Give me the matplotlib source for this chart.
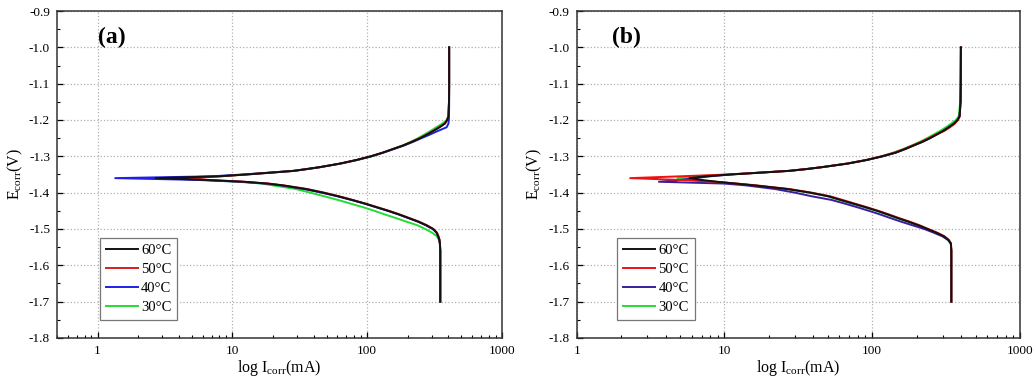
#Import Library
import numpy as np
import matplotlib
matplotlib.use('Agg')
import matplotlib.pyplot as plt
from matplotlib.ticker import MultipleLocator, LogLocator, FuncFormatter

plt.rcParams['font.family'] = ['Liberation Serif', 'DejaVu Serif']

#Potential grid shared by all curves (V)
E = [-1.70, -1.60, -1.56, -1.54, -1.53, -1.52, -1.51, -1.50, -1.49, -1.48,
     -1.47, -1.46, -1.45, -1.44, -1.43, -1.42, -1.41, -1.40, -1.39, -1.38,
     -1.375, -1.37, -1.365, -1.36, -1.355, -1.35, -1.345, -1.34, -1.335, -1.33,
     -1.32, -1.31, -1.30, -1.29, -1.28, -1.27, -1.26, -1.25, -1.24, -1.23,
     -1.22, -1.21, -1.20, -1.19, -1.15, -1.10, -1.00]

temps = ['60°C', '50°C', '40°C', '30°C']

#Panel (a) currents (mA)
a_60 = [348, 348, 348, 346, 343, 336, 327, 308, 275, 240, 203, 172, 143, 117, 96, 77,
        61, 47, 35, 23.7, 18.3, 12.3, 6.4, 2.7,
        8, 12.6, 19, 28.6, 35.6, 44, 62.7, 83, 106, 130, 155, 185, 215, 247, 278,
        310, 344, 377, 392, 400, 404, 405, 405]
a_50 = [348, 348, 348, 346, 344, 338, 329, 310, 278, 243, 206, 174, 145, 119, 97, 78,
        62, 48, 36, 24, 18.5, 12, 6.8, 4.4,
        8.2, 12.8, 19.3, 28.8, 36, 44.5, 63, 83.5, 106, 130, 155, 185, 214, 245, 276,
        307, 340, 374, 390, 399, 404, 405, 405]
a_40 = [348, 348, 348, 346, 342, 335, 326, 306, 273, 238, 202, 171, 142, 116, 95, 76,
        60, 46, 34, 23, 17.5, 11.5, 5.5, 1.35,
        7, 12, 18.5, 28, 35.5, 44, 63, 84, 107, 131, 157, 188, 219, 252, 292,
        335, 388, 400, 403, 404, 405, 405, 405]
a_30 = [348, 348, 348, 345, 340, 328, 302, 269, 236, 196, 163, 135, 113, 93, 75, 60.5,
        48, 37.8, 29.5, 20, 16.5, 11, 6, 3.2,
        7.5, 12.5, 19, 28.6, 35.6, 44.5, 63.5, 85, 108, 130, 155, 183, 210, 238, 265,
        295, 325, 360, 388, 400, 404, 405, 405]

#Panel (b) currents (mA)
b_60 = [343, 343, 343, 341, 328, 305, 271, 236, 206, 176, 149, 127, 108, 90, 74, 61,
        50.5, 38, 26.6, 15.9, 11.9, 8.9, 7, 5.8,
        7.5, 11, 17.4, 27.5, 36, 45.4, 68, 92, 117, 144, 167, 191, 219, 246, 273,
        302, 329, 357, 378, 390, 396, 397, 398]
b_50 = [343, 343, 343, 341, 330, 308, 275, 240, 210, 180, 152, 130, 110, 92, 76, 63,
        52, 39, 27.5, 16.5, 12.2, 8.6, 5, 2.3,
        5, 10.5, 17, 27, 35.5, 45, 67, 91, 115, 141, 164, 188, 215, 241, 270,
        308, 336, 362, 380, 391, 396, 397, 398]
b_40 = [343, 343, 343, 340, 325, 298, 260, 225, 188, 157, 133, 113, 95, 79, 65, 53,
        39, 30, 22, 14, 10, 3.6, 5, 6.3,
        8, 11, 17.4, 27.5, 36, 45.4, 68, 92, 117, 144, 167, 191, 219, 246, 273,
        302, 329, 357, 378, 390, 396, 397, 398]
b_30 = [343, 343, 343, 340, 326, 300, 268, 234, 204, 175, 148, 126, 107, 89, 73, 60,
        50, 37.5, 26.5, 15.8, 11.8, 8.8, 6, 4.8,
        6.5, 10.5, 17, 27.5, 36, 45.4, 68, 92, 117, 138, 162, 185, 210, 235, 260,
        288, 315, 342, 368, 385, 394, 397, 398]

colors_a = ['#111111', '#d42020', '#1f1fe6', '#22dd33']
colors_b = ['#111111', '#ee1111', '#3a1ea0', '#22dd33']

fig = plt.figure(figsize=(10.35, 3.82), dpi=100)
ax1 = fig.add_axes([0.0551, 0.1152, 0.430, 0.856])
ax2 = fig.add_axes([0.5572, 0.1152, 0.4283, 0.856])

panels = [(ax1, [a_60, a_50, a_40, a_30], colors_a, '(a)', 0.5, 0.092, 0.097),
          (ax2, [b_60, b_50, b_40, b_30], colors_b, '(b)', 1.0, 0.079, 0.092)]

for ax, series, cols, tag, xmin, tagx, legx in panels:
    #Draw in reverse so 60°C ends up on top
    lines = []
    for I, c, t in zip(series[::-1], cols[::-1], temps[::-1]):
        ln, = ax.plot(I, E, color=c, lw=1.4, label=t)
        lines.append(ln)
    lines = lines[::-1]

    ax.set_xscale('log')
    ax.set_xlim(xmin, 1000)
    ax.set_ylim(-1.8, -0.9)
    ax.xaxis.set_major_locator(LogLocator(base=10, numticks=10))
    ax.xaxis.set_minor_locator(LogLocator(base=10, subs=np.arange(2, 10), numticks=10))
    ax.xaxis.set_major_formatter(FuncFormatter(lambda v, p: '%d' % round(v)))
    ax.yaxis.set_major_locator(MultipleLocator(0.1))
    ax.yaxis.set_minor_locator(MultipleLocator(0.05))
    ax.yaxis.set_major_formatter(FuncFormatter(lambda v, p: '%.1f' % v))

    ax.tick_params(which='both', direction='in', labelsize=9.5, top=False, right=False)
    ax.tick_params(which='major', length=4, width=0.9, pad=5)
    ax.tick_params(which='minor', length=2.5, width=0.8)
    ax.grid(True, which='major', linestyle=':', color='#b0b0b0', linewidth=0.9)
    for s in ax.spines.values():
        s.set_linewidth(1.1)
        s.set_color('#333333')

    ax.set_xlabel(r'log I$_{\mathregular{corr}}$(mA)', fontsize=11.5, labelpad=1)
    ax.set_ylabel(r'E$_{\mathregular{corr}}$(V)', fontsize=11.5, labelpad=3)
    ax.text(tagx, 0.92, tag, transform=ax.transAxes, fontsize=17,
            fontweight='bold', va='center', ha='left')

    leg = ax.legend(handles=lines, loc='lower left', bbox_to_anchor=(legx, 0.055),
                    borderaxespad=0, fontsize=10.5, fancybox=False, framealpha=1,
                    handlelength=2.2, handletextpad=0.2, labelspacing=0.4,
                    borderpad=0.4)
    leg.get_frame().set_edgecolor('#777777')
    leg.get_frame().set_linewidth(0.9)

fig.savefig('out.png', dpi=100)
